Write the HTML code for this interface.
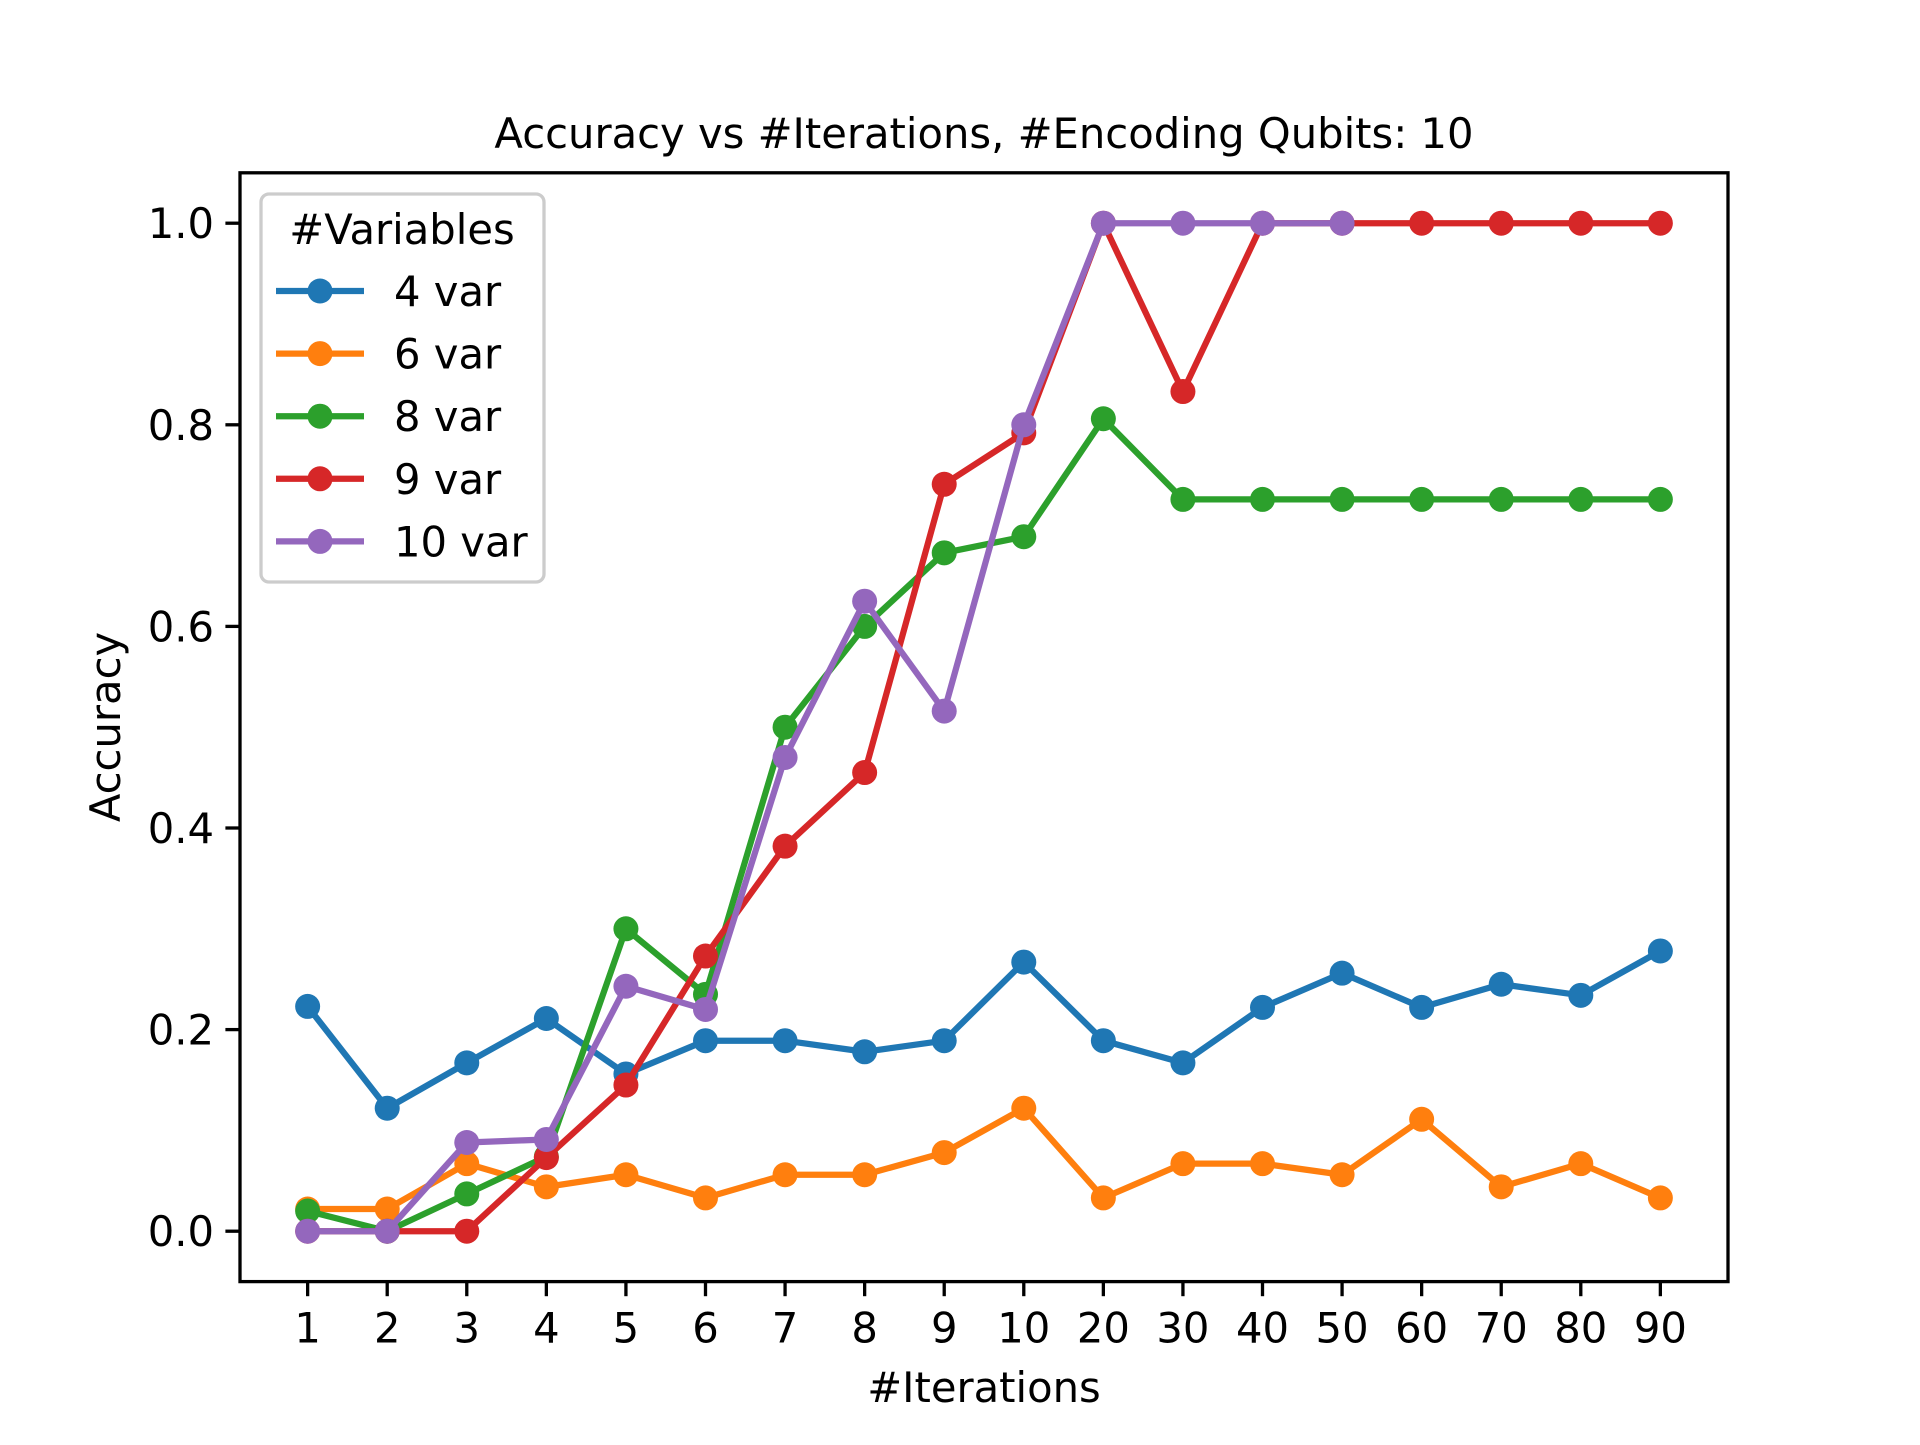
<!DOCTYPE html>
<html><head><meta charset="utf-8"><style>
html,body{margin:0;padding:0;background:#fff;}
svg text{font-family:"DejaVu Sans","Liberation Sans",sans-serif;fill:#000;}
</style></head><body>
<svg id="chart" width="1920" height="1440" viewBox="0 0 1920 1440" xmlns="http://www.w3.org/2000/svg">
<rect width="1920" height="1440" fill="#fff"/>
<text x="984" y="148" font-size="41.7" text-anchor="middle">Accuracy vs #Iterations, #Encoding Qubits: 10</text>
<text x="984" y="1402" font-size="41.7" text-anchor="middle">#Iterations</text>
<text x="0" y="0" font-size="41.7" text-anchor="middle" transform="translate(120,727) rotate(-90)">Accuracy</text>
<g id="plot"></g>
<rect x="240" y="172.8" width="1488" height="1108.8" fill="none" stroke="#000" stroke-width="3.3"/>
<g id="legend"></g>
</svg>
<script>
const categories = ["1","2","3","4","5","6","7","8","9","10","20","30","40","50","60","70","80","90"];
const yTicks = [0.0,0.2,0.4,0.6,0.8,1.0];
const seriesNames = ["4 var","6 var","8 var","9 var","10 var"];
const seriesColors = ["#1f77b4","#ff7f0e","#2ca02c","#d62728","#9467bd"];
const var4 = [0.223,0.122,0.167,0.211,0.156,0.189,0.189,0.178,0.189,0.267,0.189,0.167,0.222,0.256,0.222,0.245,0.234,0.278];
const var6 = [0.022,0.022,0.067,0.044,0.056,0.033,0.056,0.056,0.078,0.122,0.033,0.067,0.067,0.056,0.111,0.044,0.067,0.033];
const var8 = [0.02,0.0,0.037,0.074,0.30,0.235,0.50,0.60,0.673,0.689,0.806,0.726,0.726,0.726,0.726,0.726,0.726,0.726];
const var9 = [0,0,0,0.073,0.145,0.273,0.382,0.455,0.741,0.792,1.0,0.833,1,1,1,1,1,1];
const var10 = [0,0,0.088,0.091,0.243,0.22,0.47,0.625,0.516,0.8,1,1,1,1];
const allSeries = [var4,var6,var8,var9,var10];

const NS="http://www.w3.org/2000/svg";
const L=240,R=1728,T=172.8,B=1281.6;
const n=categories.length, xmin=-0.05*(n-1), xmax=(n-1)*1.05;
function xPos(i){return L+(i-xmin)/(xmax-xmin)*(R-L);}
function yPos(v){return B-(v+0.05)/1.1*(B-T);}
function mk(tag,attrs,parent){const e=document.createElementNS(NS,tag);for(const k in attrs)e.setAttribute(k,attrs[k]);parent.appendChild(e);return e;}
const plot=document.getElementById('plot');
const svg=document.getElementById('chart');
categories.forEach((c,i)=>{
  const x=xPos(i);
  const t=mk('line',{x1:x,x2:x,y1:B,y2:B+14.6,stroke:'#000','stroke-width':3.3},svg);
  
  
  const lb=mk('text',{x:x,y:B+61,'font-size':41.7,'text-anchor':'middle'},svg);
  lb.textContent=c;
  
  
});
yTicks.forEach(v=>{
  const y=yPos(v);
  const t=mk('line',{x1:L-14.6,x2:L,y1:y,y2:y,stroke:'#000','stroke-width':3.3},svg);
  
  
  const lb=mk('text',{x:L-26,y:y+15,'font-size':41.7,'text-anchor':'end'},svg);
  lb.textContent=v.toFixed(1);
  
  
});
allSeries.forEach((s,k)=>{
  const g=mk('g',{},plot);
  
  
  const pts=s.map((v,i)=>xPos(i)+','+yPos(v)).join(' ');
  const pl=mk('polyline',{points:pts,fill:'none',stroke:seriesColors[k],'stroke-width':6.25,'stroke-linejoin':'round','stroke-linecap':'square'},g);
  
  
  s.forEach((v,i)=>{
    const c=mk('circle',{cx:xPos(i),cy:yPos(v),r:12.5,fill:seriesColors[k]},g);
    
    
  });
});
const lg=document.getElementById('legend');
const box=mk('rect',{x:261,y:194,width:283,height:388,rx:8,fill:'#fff','fill-opacity':0.8,stroke:'#cccccc','stroke-width':3.3},lg);


const lt=mk('text',{x:402,y:244,'font-size':41.7,'text-anchor':'middle'},lg);
lt.textContent='#Variables';


seriesNames.forEach((nm,k)=>{
  const y=291+k*62.6;
  const g=mk('g',{},lg);
  
  
  mk('line',{x1:276,x2:364,y1:y,y2:y,stroke:seriesColors[k],'stroke-width':6.25},g);
  mk('circle',{cx:320,cy:y,r:12.5,fill:seriesColors[k]},g);
  const t=mk('text',{x:394,y:y+15,'font-size':41.7},g);
  t.textContent=nm;
});
</script>
</body></html>
